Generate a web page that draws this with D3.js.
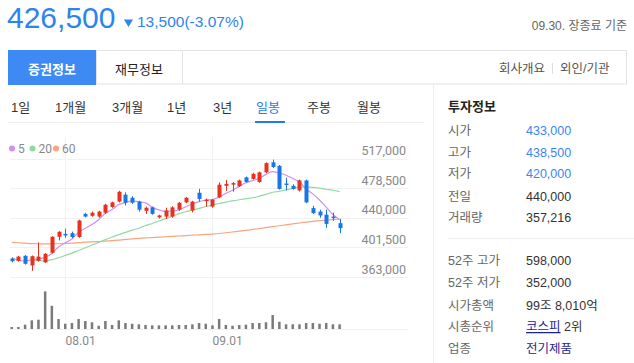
<!DOCTYPE html>
<html lang="ko">
<head>
<meta charset="utf-8">
<script src="https://cdn.jsdelivr.net/npm/d3@7/dist/d3.min.js"></script>
<style>
  html, body { margin: 0; padding: 0; background: #fff; }
  svg { display: block; font-family: "Liberation Sans", "Noto Sans CJK KR", sans-serif; }
</style>
</head>
<body>
<div id="chart"></div>
<script>
// ── Datos ─────────────────────────────────────────────────
const dates = [
  '07.20','07.21','07.22','07.25','07.26','07.27','07.28','07.29',
  '08.01','08.02','08.03','08.04','08.05','08.08','08.09','08.10','08.11','08.12',
  '08.16','08.17','08.18','08.19','08.22','08.23','08.24','08.25','08.26','08.29','08.30','08.31',
  '09.01','09.02','09.05','09.06','09.07','09.08','09.13','09.14','09.15','09.16',
  '09.19','09.20','09.21','09.22','09.23','09.26','09.27','09.28','09.29','09.30'
];
const opens  = [387000,384000,390500,378000,384000,382000,394500,415300,419000,420000,
                415000,445000,442500,441500,446500,454000,461000,470000,466000,461000,
                449000,453500,440500,441500,441500,450500,460000,449500,472500,462000,
                454500,466500,481500,483500,481000,492500,490500,486500,499000,512000,
                507500,484500,481500,475500,488500,452500,448000,444000,441500,433000];
const highs  = [388500,390500,391500,391000,408000,394000,416000,422500,425700,422000,
                437500,446500,448000,449000,458000,461000,475000,473000,468000,462000,
                454500,454500,444000,453000,455000,460500,467000,462000,477500,465000,
                464500,486000,489000,486500,489500,493500,498500,500000,512000,515500,
                508500,492000,483500,489500,489500,455500,450500,450500,446500,438500];
const lows   = [382000,383000,379000,371000,383000,381000,393500,410500,414000,413500,
                414000,440500,441500,440000,445000,453000,460000,456000,458000,448000,
                445000,444000,439000,438500,440000,449000,459000,447000,461000,454500,
                453000,465500,475000,474000,480000,485500,489500,485500,498000,504500,
                476500,475500,476500,474000,459000,445000,440000,427000,436000,420000];
const closes = [383500,389500,380200,390000,389500,393200,415300,421800,417000,415000,
                436500,441500,446500,448000,457000,460000,473800,459500,459500,450500,
                453000,445000,443000,449500,453500,459500,466000,461000,464500,463500,
                463500,483000,484000,485000,488500,486500,497000,499000,511000,506000,
                477500,483000,477500,488500,460000,446000,443000,432000,440000,426500];
const volumes = [150000,155000,330000,660000,710000,2870000,1770000,760000,400000,455000,
                 760000,610000,510000,250000,610000,305000,660000,455000,400000,357000,
                 305000,280000,280000,280000,280000,305000,305000,357000,455000,400000,
                 280000,760000,305000,250000,305000,330000,455000,455000,510000,1065000,
                 555000,357000,357000,357000,455000,455000,400000,455000,360000,357216];
// Medias móviles (null = sin dato)
const ma5  = [387700,385000,383500,385400,386500,388500,393600,402000,407400,412500,
              421100,426400,431300,437500,445900,450600,457100,459700,462000,460700,
              459300,453500,450200,448200,448800,450100,454300,457900,460900,462900,
              463700,467100,471700,475800,480800,485400,488200,491200,496400,499900,
              498100,495300,491000,486500,477300,471000,463000,453900,444200,437500];
const ma20 = [null,null,null,385000,384500,384000,385500,388000,391000,394000,
              397500,401000,404500,408000,411500,415000,418000,421000,424000,426400,
              429900,432600,435800,438800,442000,445300,447800,449800,452100,454600,
              456500,458500,460200,461900,463400,464800,466000,468000,470400,473100,
              474300,476200,478000,479900,480200,479600,478400,477000,475700,473900];
const ma60 = [408000,407500,407000,406500,406200,406000,406000,406200,406600,407000,
              407600,408200,408700,409100,409700,410300,411000,411800,412500,413200,
              413800,414300,414800,415300,415800,416300,416800,417300,417800,418300,
              418800,419500,420500,421500,422500,423600,424800,426000,427200,428400,
              429600,430800,432000,433200,434300,435300,436200,436900,437600,438200];
const priceTicks = [363000, 401500, 440000, 478500, 517000];
const monthTicks = ['08.01', '09.01'];
const periodTabs = ['1일', '1개월', '3개월', '1년', '3년', '일봉', '주봉', '월봉'];
const infoTop = [
  ['시가', '433,000'], ['고가', '438,500'], ['저가', '420,000'],
  ['전일', '440,000'], ['거래량', '357,216']
];
const infoBottom = [
  ['52주 고가', '598,000'], ['52주 저가', '352,000'], ['시가총액', '99조 8,010억'],
  ['시총순위', '코스피 2위'], ['업종', '전기제품']
];

const W = 634, H = 363;
const RED = '#e8321e', BLUE = '#1877e6';

const svg = d3.select('#chart').append('svg')
  .attr('width', W).attr('height', H);

// ── Cabecera ─────────────────────────────────────────────
svg.append('text').attr('x', 7).attr('y', 28)
  .style('font-size', '30px').style('fill', '#2c84ee')
  .text('426,500');
svg.append('path')
  .attr('d', 'M124,19.5 L133,19.5 L128.5,27 Z')
  .attr('fill', '#2c84ee');
svg.append('text').attr('x', 137).attr('y', 27)
  .style('font-size', '15.5px').style('fill', '#2c84ee')
  .text('13,500(-3.07%)');
svg.append('text').attr('x', 627).attr('y', 30)
  .attr('text-anchor', 'end')
  .style('font-size', '12px').style('fill', '#666')
  .text('09.30. 장종료 기준');

// Pestañas
svg.append('rect').attr('x', 96.5).attr('y', 50.5).attr('width', 530).attr('height', 33.5)
  .attr('fill', '#fff').attr('stroke', '#e3e3e3');
svg.append('line').attr('x1', 182.5).attr('x2', 182.5).attr('y1', 50).attr('y2', 84)
  .attr('stroke', '#e3e3e3');
svg.append('rect').attr('x', 8).attr('y', 50).attr('width', 88).attr('height', 35)
  .attr('fill', '#3d8af5');
svg.append('text').attr('x', 52).attr('y', 73.5).attr('text-anchor', 'middle')
  .style('font-size', '13px').style('font-weight', 'bold').style('fill', '#fff')
  .text('증권정보');
svg.append('text').attr('x', 139).attr('y', 73.5).attr('text-anchor', 'middle')
  .style('font-size', '13px').style('fill', '#222')
  .text('재무정보');
svg.append('text').attr('x', 545).attr('y', 73).attr('text-anchor', 'end')
  .style('font-size', '12.5px').style('fill', '#555').text('회사개요');
svg.append('line').attr('x1', 552.5).attr('x2', 552.5).attr('y1', 63).attr('y2', 74)
  .attr('stroke', '#ddd');
svg.append('text').attr('x', 560).attr('y', 73)
  .style('font-size', '12.5px').style('fill', '#555').text('외인/기관');

// Separador del panel derecho
svg.append('line').attr('x1', 433.5).attr('x2', 433.5).attr('y1', 84).attr('y2', H)
  .attr('stroke', '#eee');

// Periodos
const tabX = [11, 55, 112, 167, 213, 256, 307, 357];
periodTabs.forEach((t, i) => {
  svg.append('text').attr('x', tabX[i]).attr('y', 112)
    .style('font-size', '13px')
    .style('fill', t === '일봉' ? '#1e7cf0' : '#333')
    .text(t);
});
svg.append('line').attr('x1', 8).attr('x2', 424).attr('y1', 122.5).attr('y2', 122.5)
  .attr('stroke', '#eee');
svg.append('rect').attr('x', 255).attr('y', 121).attr('width', 30).attr('height', 2)
  .attr('fill', '#1e7cf0');

// ── Gráfico de velas ─────────────────────────────────────
const x = d3.scalePoint().domain(dates).range([11.7, 339.6]);
const y = d3.scaleLinear().domain([363000, 517000]).range([277, 158.5]);
const yv = d3.scaleLinear().domain([0, 2900000]).range([329, 291]);

const g = svg.append('g');

// Rejilla horizontal + etiquetas
priceTicks.forEach(v => {
  g.append('line').attr('x1', 10).attr('x2', 408)
    .attr('y1', Math.round(y(v)) + 0.5).attr('y2', Math.round(y(v)) + 0.5)
    .attr('stroke', '#f1f1f1');
  g.append('text').attr('x', 406).attr('y', y(v) - 3.5)
    .attr('text-anchor', 'end')
    .style('font-family', 'Roboto, sans-serif')
    .style('font-size', '12.5px').style('fill', '#888')
    .text(d3.format(',')(v));
});
g.append('line').attr('x1', 10).attr('x2', 408).attr('y1', 329.5).attr('y2', 329.5)
  .attr('stroke', '#f1f1f1');

// Rejilla vertical + fechas
monthTicks.forEach(d => {
  const px = Math.round(x(d)) + 0.5;
  g.append('line').attr('x1', px).attr('x2', px).attr('y1', 137).attr('y2', 333)
    .attr('stroke', '#f1f1f1');
  g.append('text').attr('x', px).attr('y', 345)
    .style('font-family', 'Roboto, sans-serif')
    .style('font-size', '12px').style('fill', '#888')
    .text(d);
});

// Leyenda
const legend = [['5', '#d28ff0', 12], ['20', '#92d9a0', 32.5], ['60', '#f7a47f', 56]];
legend.forEach(([t, c, lx]) => {
  g.append('circle').attr('cx', lx).attr('cy', 148.5).attr('r', 3).attr('fill', c);
  g.append('text').attr('x', lx + 6).attr('y', 152.5)
    .style('font-family', 'Roboto, sans-serif')
    .style('font-size', '12px').style('fill', '#888').text(t);
});

// Volumen
g.append('g').selectAll('rect').data(volumes).join('rect')
  .attr('x', (d, i) => x(dates[i]) - 1.25)
  .attr('y', d => yv(d))
  .attr('width', 2.5)
  .attr('height', d => 329 - yv(d))
  .attr('fill', '#7a7a7a');

// Medias móviles
const maLine = arr => d3.line()
  .defined(d => d != null)
  .x((d, i) => x(dates[i]))
  .y(d => y(d))
  .curve(d3.curveMonotoneX)(arr);
[[ma60, '#f7a47f'], [ma20, '#92d9a0'], [ma5, '#d28ff0']].forEach(([arr, c]) => {
  g.append('path').attr('d', maLine(arr))
    .attr('fill', 'none').attr('stroke', c).attr('stroke-width', 1.2);
});

// Velas
const candles = g.append('g').selectAll('g').data(dates).join('g');
candles.append('line')
  .attr('x1', d => Math.round(x(d)) + 0.5).attr('x2', d => Math.round(x(d)) + 0.5)
  .attr('y1', (d, i) => y(highs[i])).attr('y2', (d, i) => y(lows[i]))
  .attr('stroke', (d, i) => closes[i] >= opens[i] ? RED : BLUE)
  .attr('stroke-width', 1);
candles.append('rect')
  .attr('x', d => Math.round(x(d)) - 1.5)
  .attr('y', (d, i) => y(Math.max(opens[i], closes[i])))
  .attr('width', 4)
  .attr('height', (d, i) => Math.max(1.5, Math.abs(y(opens[i]) - y(closes[i]))))
  .attr('fill', (d, i) => closes[i] >= opens[i] ? RED : BLUE);

// ── Panel de inversión ───────────────────────────────────
svg.append('text').attr('x', 448).attr('y', 111)
  .style('font-size', '13px').style('font-weight', 'bold').style('fill', '#222')
  .text('투자정보');

const rowTop = [130.5, 152, 173.5, 196, 217];
infoTop.forEach(([k, v], i) => {
  svg.append('text').attr('x', 448).attr('y', rowTop[i] + 4.5)
    .style('font-size', '12.5px').style('fill', '#666').text(k);
  svg.append('text').attr('x', 526).attr('y', rowTop[i] + 4.5)
    .style('font-size', '12.5px')
    .style('fill', i < 3 ? '#3a86f0' : '#333').text(v);
});
svg.append('line').attr('x1', 448).attr('x2', 634).attr('y1', 238.5).attr('y2', 238.5)
  .attr('stroke', '#eee');

const rowBot = [260.5, 282.5, 305, 326.5, 348.5];
infoBottom.forEach(([k, v], i) => {
  svg.append('text').attr('x', 448).attr('y', rowBot[i] + 4.5)
    .style('font-size', '12.5px').style('fill', '#666').text(k);
  const t = svg.append('text').attr('x', 526).attr('y', rowBot[i] + 4.5)
    .style('font-size', '12.5px').style('fill', '#333');
  if (k === '시총순위') {
    const [a, b] = v.split(' ');
    t.append('tspan').style('fill', '#1b1f9c').style('text-decoration', 'underline').text(a);
    t.append('tspan').text(' ' + b);
  } else if (k === '업종') {
    t.style('fill', '#23288c').text(v);
  } else {
    t.text(v);
  }
});
</script>
</body>
</html>
